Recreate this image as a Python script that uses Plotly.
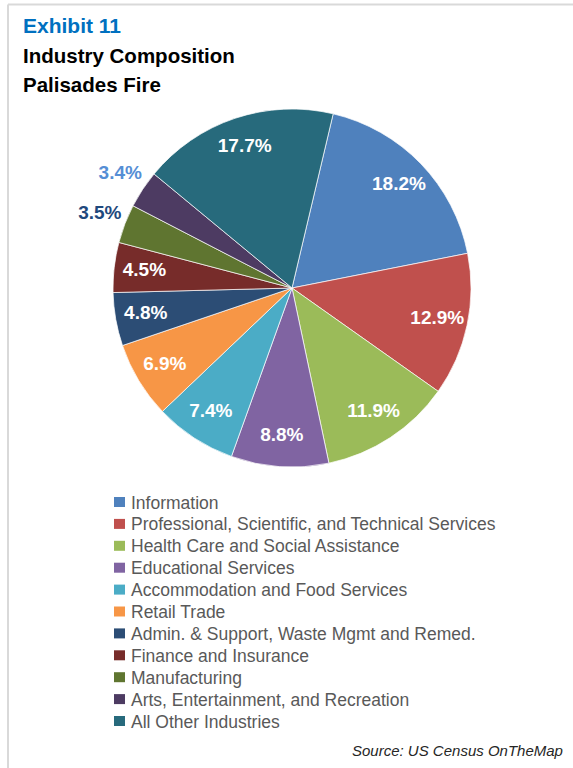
import numpy as np
import plotly.graph_objects as go

# Industry shares of jobs, Palisades Fire area (percent)
industries = [
    "Information",
    "Professional, Scientific, and Technical Services",
    "Health Care and Social Assistance",
    "Educational Services",
    "Accommodation and Food Services",
    "Retail Trade",
    "Admin. & Support, Waste Mgmt and Remed.",
    "Finance and Insurance",
    "Manufacturing",
    "Arts, Entertainment, and Recreation",
    "All Other Industries",
]
shares = [18.2, 12.9, 11.9, 8.8, 7.4, 6.9, 4.8, 4.5, 3.5, 3.4, 17.7]
slice_colors = [
    "#4F81BD", "#C0504D", "#9BBB59", "#8064A2", "#4BACC6", "#F79646",
    "#2C4D75", "#772C2A", "#5F7530", "#4D3B62", "#276A7C",
]
# the two smallest slices carry their label outside the pie, in a coloured font
label_outside = [False] * 8 + [True, True] + [False]
label_colors = ["white"] * 8 + ["#1F497D", "#558ED5"] + ["white"]

W, H = 573, 768
BASE_FONT = "Liberation Sans, Arial, sans-serif"

# pie geometry: slices laid out clockwise, first slice starting 13.3 deg past 12 o'clock
sh = np.array(shares, dtype=float)
span = sh / sh.sum() * 360.0
mid = np.cumsum(span) - span / 2
R_MAX = 1.25                      # radial range; pie radius is 1
cx, cy, r_px = 292, 288, 179      # pie centre and radius in pixels
dom_r = r_px * R_MAX
label_r = np.where(label_outside, 1.15, 0.83)

fig = go.Figure()
fig.add_trace(go.Barpolar(
    r=[1.0] * len(shares),
    theta=mid,
    width=span,
    marker=dict(color=slice_colors, line=dict(color="white", width=0.7)),
    customdata=np.column_stack([industries, shares]),
    hovertemplate="%{customdata[0]}: %{customdata[1]}%<extra></extra>",
    showlegend=False,
))
fig.add_trace(go.Scatterpolar(
    r=label_r,
    theta=mid,
    mode="text",
    text=[f"{v:.1f}%" for v in shares],
    textfont=dict(family=BASE_FONT, size=19, color=label_colors, weight="bold"),
    textposition="middle center",
    cliponaxis=False,
    hoverinfo="skip",
    showlegend=False,
))

# legend drawn as swatches and text rows
legend_top = 502
legend_step = 21.9
shapes = [
    # frame lines along the top and left edges
    dict(type="line", xref="paper", yref="paper", x0=8 / W, x1=1, y0=1 - 4.5 / H, y1=1 - 4.5 / H,
         line=dict(color="#D9D9D9", width=2)),
    dict(type="line", xref="paper", yref="paper", x0=8 / W, x1=8 / W, y0=0, y1=1 - 4.5 / H,
         line=dict(color="#D9D9D9", width=2)),
]
annotations = []
for i, (name, col) in enumerate(zip(industries, slice_colors)):
    yc = legend_top + i * legend_step
    shapes.append(dict(type="rect", xref="paper", yref="paper",
                       x0=114 / W, x1=125 / W, y0=1 - (yc + 5) / H, y1=1 - (yc - 5) / H,
                       fillcolor=col, line=dict(width=0)))
    annotations.append(dict(text=name, xref="paper", yref="paper", x=129 / W, y=1 - (yc + 0.5) / H,
                            xanchor="left", yanchor="middle", showarrow=False,
                            font=dict(family=BASE_FONT, size=17.5, color="#595959")))

# title block and source note
annotations += [
    dict(text="<b>Exhibit 11</b>", x=21 / W, y=1 - 26 / H, xanchor="left", yanchor="middle",
         font=dict(family=BASE_FONT, size=21, color="#0070C0")),
    dict(text="<b>Industry Composition</b>", x=21 / W, y=1 - 56 / H, xanchor="left", yanchor="middle",
         font=dict(family=BASE_FONT, size=20.5, color="#000000")),
    dict(text="<b>Palisades Fire</b>", x=21 / W, y=1 - 84 / H, xanchor="left", yanchor="middle",
         font=dict(family=BASE_FONT, size=20.5, color="#000000")),
    dict(text="<i>Source: US Census OnTheMap</i>", x=565 / W, y=1 - 750 / H, xanchor="right",
         yanchor="middle", font=dict(family=BASE_FONT, size=15, color="#262626")),
]
for a in annotations[-4:]:
    a.update(xref="paper", yref="paper", showarrow=False)

fig.update_layout(
    width=W, height=H,
    margin=dict(l=0, r=0, t=0, b=0),
    paper_bgcolor="white", plot_bgcolor="white",
    polar=dict(
        domain=dict(x=[(cx - dom_r) / W, (cx + dom_r) / W],
                    y=[1 - (cy + dom_r) / H, 1 - (cy - dom_r) / H]),
        bgcolor="rgba(0,0,0,0)",
        bargap=0,
        hole=0,
        radialaxis=dict(range=[0, R_MAX], visible=False, showgrid=False),
        angularaxis=dict(rotation=90 - 13.3, direction="clockwise", visible=False, showgrid=False),
    ),
    shapes=shapes,
    annotations=annotations,
)

fig.write_html("out.html")
